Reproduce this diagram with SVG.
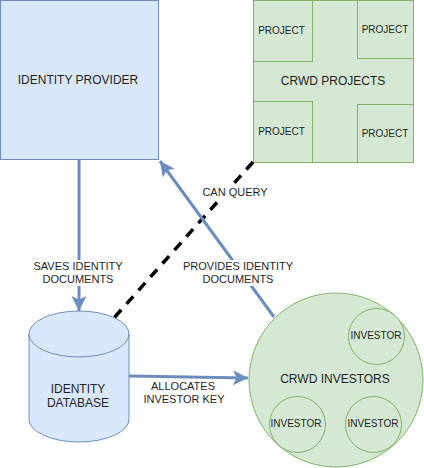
<svg xmlns="http://www.w3.org/2000/svg" width="424" height="468" viewBox="0 0 424 468">
<style>
text{font-family:"Liberation Sans",Arial,sans-serif;fill:#1f1f1f;text-anchor:middle}
.l{font-size:12px}.s{font-size:10px}.e{font-size:11px}
.b{fill:#dae8fc;stroke:#6c8ebf;stroke-width:1}
.g{fill:#d5e8d4;stroke:#82b366;stroke-width:1}
.c{fill:none;stroke:#6c8ebf;stroke-width:3}
.d{fill:none;stroke:#000;stroke-width:3.500;stroke-dasharray:10 8}
.bg{fill:#fff;stroke:none}
</style>
<defs>
<marker id="a" markerUnits="userSpaceOnUse" markerWidth="16" markerHeight="16" refX="15" refY="8" orient="auto"><path d="M0 0.500L15 8L0 15.500L3.500 8Z" fill="#6c8ebf"/></marker>
</defs>
<g id="identity-provider"><rect class="b" x="0.500" y="0.500" width="158" height="159"/><text class="l" x="78" y="84">IDENTITY PROVIDER</text></g>
<g id="crwd-projects"><rect class="g" x="253.500" y="0.500" width="160" height="162"/><text class="l" x="333" y="85">CRWD PROJECTS</text></g>
<g id="project-1"><rect class="g" x="253.500" y="0.500" width="59" height="61"/><text class="s" x="281.500" y="34">PROJECT</text></g>
<g id="project-2"><rect class="g" x="357.500" y="0.500" width="56" height="58"/><text class="s" x="385" y="33">PROJECT</text></g>
<g id="project-3"><rect class="g" x="253.500" y="101.500" width="59" height="61"/><text class="s" x="281.500" y="135">PROJECT</text></g>
<g id="project-4"><rect class="g" x="357.500" y="104.500" width="56" height="58"/><text class="s" x="385" y="137">PROJECT</text></g>
<g id="identity-database"><path class="b" d="M29 334A50 23 0 0 1 129 334V419A50 23 0 0 1 29 419Z"/><path class="b" style="fill:none" d="M29 334A50 23 0 0 0 129 334"/><text class="l" x="78" y="393">IDENTITY</text><text class="l" x="78" y="407">DATABASE</text></g>
<g id="crwd-investors"><circle class="g" cx="336" cy="380" r="87"/><text class="l" x="335" y="383">CRWD INVESTORS</text></g>
<g id="investor-1"><circle class="g" cx="376.500" cy="336.500" r="28"/><text class="s" x="376" y="339">INVESTOR</text></g>
<g id="investor-2"><circle class="g" cx="297.500" cy="424.500" r="28"/><text class="s" x="296" y="427">INVESTOR</text></g>
<g id="investor-3"><circle class="g" cx="373.500" cy="424.500" r="28"/><text class="s" x="373" y="427">INVESTOR</text></g>
<g id="connectors">
<path class="c" marker-end="url(#a)" d="M79 159V311"/>
<path class="d" d="M253 162L113 319"/>
<path class="c" marker-end="url(#a)" d="M274 317L160 161"/>
<path class="c" marker-end="url(#a)" d="M129 376L248 378"/>
<rect class="bg" x="30" y="260" width="96" height="26"/>
<text class="e" x="78" y="270">SAVES IDENTITY</text><text class="e" x="78" y="283">DOCUMENTS</text>
<rect class="bg" x="202" y="186" width="64" height="13"/>
<text class="e" x="235" y="196">CAN QUERY</text>
<rect class="bg" x="183" y="260" width="110" height="26"/>
<text class="e" x="238" y="270">PROVIDES IDENTITY</text><text class="e" x="238" y="283">DOCUMENTS</text>
<text class="e" x="183" y="390">ALLOCATES</text><text class="e" x="184" y="403">INVESTOR KEY</text>
</g>
</svg>
